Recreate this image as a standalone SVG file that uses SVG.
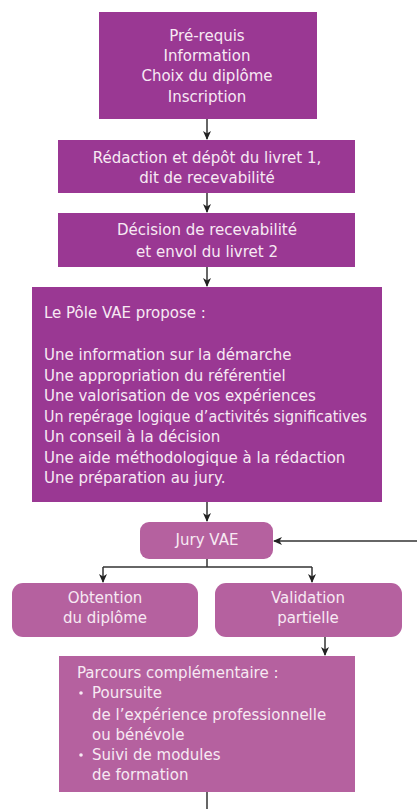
<svg xmlns="http://www.w3.org/2000/svg" width="417" height="809" viewBox="0 0 417 809">
<defs>
<marker id="arr" markerWidth="10" markerHeight="10" refX="8" refY="5" orient="auto" markerUnits="userSpaceOnUse">
<path d="M0,1 L9,5 L0,9 L2.5,5 Z" fill="#222"/>
</marker>
<style>
.dark{fill:#9a3893;}
.light{fill:#b5619f;}
text{font-family:"DejaVu Sans","Liberation Sans",Arial,sans-serif;font-size:15px;fill:#f7e9f3;}
.c{text-anchor:middle;}
.ln{stroke:#333;stroke-width:1.5;fill:none;}
</style>
</defs>
<rect width="417" height="809" fill="#ffffff"/>
<g id="connectors">
<line class="ln" x1="207" y1="119" x2="207" y2="139" marker-end="url(#arr)"/>
<line class="ln" x1="207" y1="193" x2="207" y2="212" marker-end="url(#arr)"/>
<line class="ln" x1="207" y1="267" x2="207" y2="286" marker-end="url(#arr)"/>
<line class="ln" x1="207" y1="502" x2="207" y2="521" marker-end="url(#arr)"/>
<line class="ln" x1="417" y1="541" x2="274" y2="541" marker-end="url(#arr)"/>
<path class="ln" d="M207,559 V567"/>
<path class="ln" d="M103,567 H312"/>
<line class="ln" x1="103" y1="567" x2="103" y2="582" marker-end="url(#arr)"/>
<line class="ln" x1="312" y1="567" x2="312" y2="582" marker-end="url(#arr)"/>
<line class="ln" x1="325" y1="637" x2="325" y2="655" marker-end="url(#arr)"/>
<line class="ln" x1="207" y1="792" x2="207" y2="809"/>
</g>
<g id="n1">
<rect class="dark" x="99" y="12" width="218" height="107"/>
<text class="c" x="207" y="41">Pré-requis</text>
<text class="c" x="207" y="61">Information</text>
<text class="c" x="207" y="81">Choix du diplôme</text>
<text class="c" x="207" y="102">Inscription</text>
</g>
<g id="n2">
<rect class="dark" x="58" y="140" width="297" height="53"/>
<text class="c" x="207" y="163">Rédaction et dépôt du livret 1,</text>
<text class="c" x="207" y="183">dit de recevabilité</text>
</g>
<g id="n3">
<rect class="dark" x="58" y="213" width="297" height="54"/>
<text class="c" x="207" y="235">Décision de recevabilité</text>
<text class="c" x="207" y="257">et envol du livret 2</text>
</g>
<g id="n4">
<rect class="dark" x="32" y="287" width="350" height="215"/>
<text x="44" y="318">Le Pôle VAE propose :</text>
<text x="44" y="360">Une information sur la démarche</text>
<text x="44" y="380.5">Une appropriation du référentiel</text>
<text x="44" y="401">Une valorisation de vos expériences</text>
<text x="44" y="421.5" textLength="323" lengthAdjust="spacingAndGlyphs">Un repérage logique d’activités significatives</text>
<text x="44" y="442">Un conseil à la décision</text>
<text x="44" y="462.5">Une aide méthodologique à la rédaction</text>
<text x="44" y="483">Une préparation au jury.</text>
</g>
<g id="jury">
<rect class="light" x="140" y="522" width="133" height="37" rx="9"/>
<text class="c" x="207" y="545">Jury VAE</text>
</g>
<g id="obtention">
<rect class="light" x="12" y="583" width="186" height="54" rx="11"/>
<text class="c" x="105" y="603">Obtention</text>
<text class="c" x="105" y="623">du diplôme</text>
</g>
<g id="validation">
<rect class="light" x="215" y="583" width="187" height="54" rx="11"/>
<text class="c" x="308" y="603">Validation</text>
<text class="c" x="308" y="623">partielle</text>
</g>
<g id="parcours">
<rect class="light" x="59" y="656" width="296" height="136"/>
<text x="77" y="678">Parcours complémentaire :</text>
<circle cx="81" cy="693" r="1.8" fill="#f7e9f3"/>
<text x="92" y="698">Poursuite</text>
<text x="92" y="720">de l’expérience professionnelle</text>
<text x="92" y="740">ou bénévole</text>
<circle cx="81" cy="755" r="1.8" fill="#f7e9f3"/>
<text x="92" y="760">Suivi de modules</text>
<text x="92" y="780">de formation</text>
</g>
</svg>
